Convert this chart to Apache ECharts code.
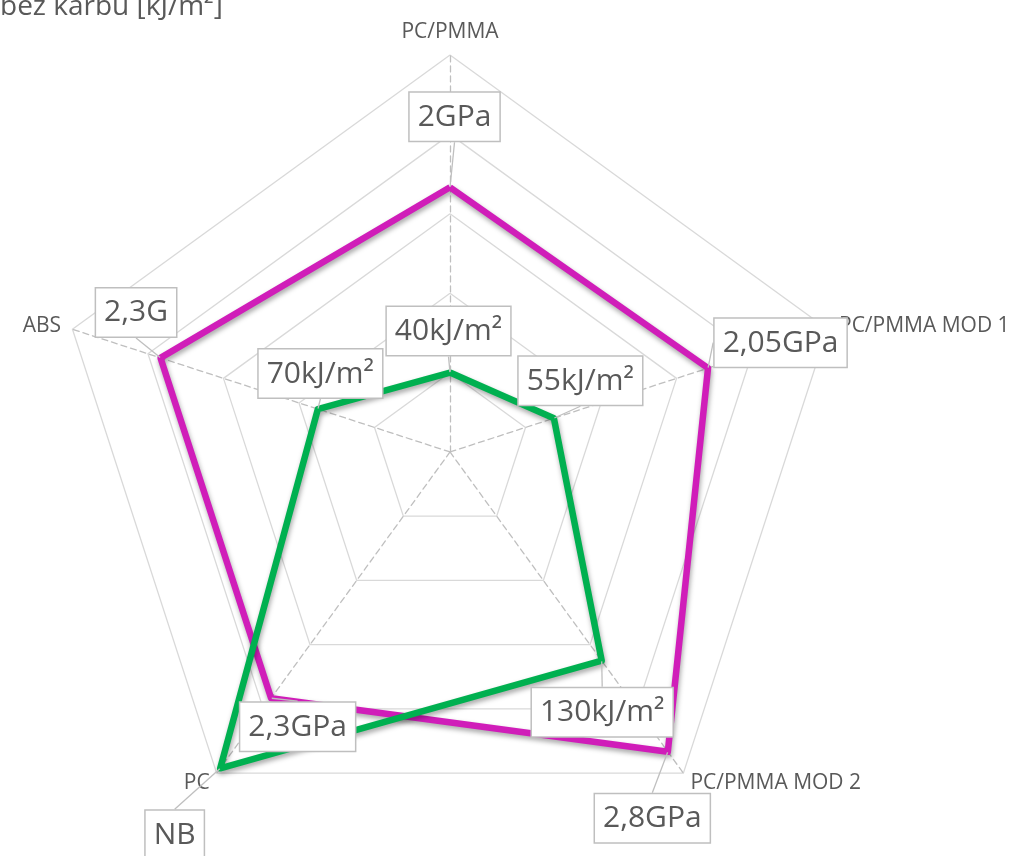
<!DOCTYPE html>
<html>
<head>
<meta charset="utf-8">
<script src="https://cdn.jsdelivr.net/npm/echarts@6/dist/echarts.min.js"></script>
<style>
html,body{margin:0;padding:0;background:#fff;}
#chart{width:1020px;height:856px;}
</style>
</head>
<body>
<div id="chart"></div>
<script>
// ---- data ----
const categories = ['PC/PMMA', 'PC/PMMA MOD 1', 'PC/PMMA MOD 2', 'PC', 'ABS'];
const modulusGPa = [2, 2.05, 2.8, 2.3, 2.3];
const modulusLabels = ['2GPa', '2,05GPa', '2,8GPa', '2,3GPa', '2,3G'];
const impactKJ = [40, 55, 130, 197, 70];
const impactLabels = ['40kJ/m²', '55kJ/m²', '130kJ/m²', 'NB', '70kJ/m²'];
const titleText = 'bez karbu [kJ/m²]';
const modulusMax = 3;
const impactMax = 200;

// ---- style / layout config ----
const modulusOffsets = [[6, -69], [74, -24], [-14, 68], [28, 30], [-23, -44]];
const impactOffsets = [[0, -40], [28, -36], [2, 53], [-44, 68], [4, -34]];
const FONT = '"Open Sans", "DejaVu Sans", sans-serif';

// Excel draws clockwise from top; ECharts radar goes counter-clockwise -> reorder
const order = [0, 4, 3, 2, 1];
const pick = arr => order.map(i => arr[i]);

function makeRadar(max, visible) {
  return {
    center: ['44.12%', '52.8%'],
    radius: 397,
    startAngle: 90,
    splitNumber: 5,
    shape: 'polygon',
    indicator: pick(categories).map(n => ({ name: n, min: 0, max: max })),
    axisName: {
      show: visible,
      color: '#595959',
      fontSize: 21,
      fontFamily: FONT
    },
    nameGap: 12,
    splitLine: { show: visible, lineStyle: { color: '#D9D9D9', width: 1.3 } },
    splitArea: { show: false },
    axisLine: { show: visible, lineStyle: { color: '#BFBFBF', width: 1.3, type: [6, 4] } },
    axisTick: { show: false },
    axisLabel: { show: false }
  };
}

function labelFor(labels, offsets) {
  return {
    formatter: function (p) {
      const idx = p.dimensionIndex != null ? p.dimensionIndex : 0;
      return pick(labels)[idx];
    },
    layout: function (p) {
      const i = labels.indexOf(p.text);
      const off = i >= 0 ? offsets[i] : [0, 0];
      const cx = p.rect.x + p.rect.width / 2 + off[0];
      const cy = p.rect.y + p.rect.height / 2 + off[1];
      return {
        x: cx - p.labelRect.width / 2,
        y: cy - p.labelRect.height / 2
      };
    }
  };
}

const gpaLab = labelFor(modulusLabels, modulusOffsets);
const kjLab = labelFor(impactLabels, impactOffsets);

const labelStyle = {
  show: true,
  position: 'inside',
  color: '#595959',
  fontSize: 30,
  fontFamily: FONT,
  lineHeight: 41,
  backgroundColor: '#FFFFFF',
  borderColor: '#BFBFBF',
  borderWidth: 1.5,
  padding: [4, 8, 3, 8]
};

const chart = echarts.init(document.getElementById('chart'), null, { renderer: 'canvas' });
chart.setOption({
  backgroundColor: '#FFFFFF',
  animation: false,
  graphic: [{
    type: 'text',
    left: 0,
    top: -7,
    style: {
      text: titleText,
      fill: '#595959',
      font: '28px ' + FONT
    }
  }],
  radar: [makeRadar(modulusMax, true), makeRadar(impactMax, false)],
  series: [
    {
      type: 'radar',
      radarIndex: 0,
      symbol: 'circle',
      symbolSize: 1,
      z: 2,
      lineStyle: {
        color: '#D01DB9', width: 6.5,
        shadowBlur: 5, shadowColor: 'rgba(0,0,0,0.35)', shadowOffsetX: 1, shadowOffsetY: 3
      },
      itemStyle: { color: '#D01DB9' },
      label: Object.assign({}, labelStyle, { formatter: gpaLab.formatter }),
      labelLine: { show: true, lineStyle: { color: '#BFBFBF', width: 1.3 } },
      labelLayout: gpaLab.layout,
      data: [{ value: pick(modulusGPa), name: 'GPa' }]
    },
    {
      type: 'radar',
      radarIndex: 1,
      symbol: 'circle',
      symbolSize: 1,
      z: 2,
      lineStyle: {
        color: '#00B050', width: 6.5,
        shadowBlur: 5, shadowColor: 'rgba(0,0,0,0.35)', shadowOffsetX: 1, shadowOffsetY: 3
      },
      itemStyle: { color: '#00B050' },
      label: Object.assign({}, labelStyle, { formatter: kjLab.formatter }),
      labelLine: { show: true, lineStyle: { color: '#BFBFBF', width: 1.3 } },
      labelLayout: kjLab.layout,
      data: [{ value: pick(impactKJ), name: 'kJ/m²' }]
    }
  ]
});
</script>
</body>
</html>
